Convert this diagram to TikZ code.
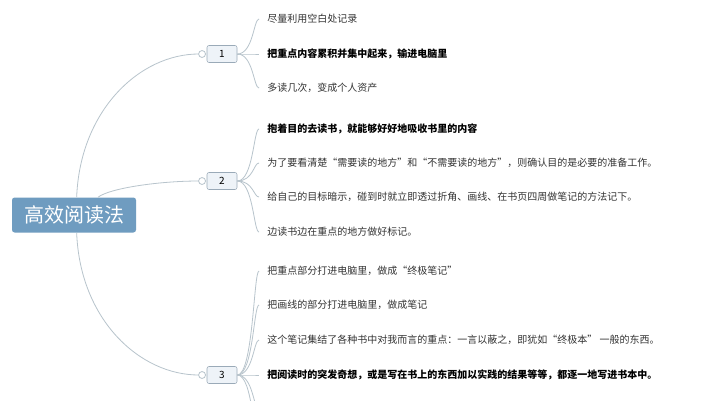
\documentclass[tikz,border=0pt]{standalone}
\usepackage{fontspec}
\setmainfont{Noto Sans CJK SC}
\begin{document}
\begin{tikzpicture}[
    x=0.75pt, y=-0.75pt,
    rootstyle/.style = {fill=rootblue,
                        rounded corners=2pt,
                        minimum width=124pt*0.75,
                        minimum height=35pt*0.75,
                        text=white,
                        font=\fontsize{15}{15}\selectfont},
    numstyle/.style  = {draw=numgray,
                        fill=numfill,
                        rounded corners=1.5pt,
                        minimum width=30pt*0.75,
                        minimum height=17pt*0.75,
                        inner sep=0pt,
                        font=\fontsize{7.5}{8}\selectfont},
    leafstyle/.style = {anchor=west,
                        inner sep=0pt,
                        text=textgray,
                        font=\fontsize{7.5}{8}\selectfont},
    boldleaf/.style  = {leafstyle,
                        text=black,
                        font=\fontsize{7.5}{8}\selectfont\bfseries},
    link/.style      = {draw=linegray,
                        line width=0.6pt}
]
\definecolor{rootblue}{HTML}{6F9CC0}
\definecolor{numgray}{HTML}{9AAAB8}
\definecolor{numfill}{HTML}{EEF3F8}
\definecolor{textgray}{HTML}{333333}
\definecolor{linegray}{HTML}{B8C4CC}
\useasboundingbox (0,0) rectangle (707,400);
\clip (0,0) rectangle (707,400);
\fill[white] (0,0) rectangle (707,400);

\node (root) [rootstyle] at (74,215) {高效阅读法};

\node (n1) [numstyle] at (222,54)  {1};
\node (n2) [numstyle] at (222,181) {2};
\node (n3) [numstyle] at (222,375) {3};

% small knobs in front of the numbers
\foreach \n in {n1,n2,n3}
    \draw[link, fill=white] ([xshift=-3.5pt]\n.west) circle (2.6pt);

\draw[link] (root.north) ++(2pt,0) .. controls (80,110) and (140,54) .. ([xshift=-6pt]n1.west);
\draw[link] ([xshift=18pt]root.north) .. controls (110,188) and (160,181) .. ([xshift=-6pt]n2.west);
\draw[link] (root.south) ++(2pt,0) .. controls (80,320) and (140,375) .. ([xshift=-6pt]n3.west);

% leaves of 1
\node (l11) [leafstyle] at (267,19) {尽量利用空白处记录};
\node (l12) [boldleaf]  at (267,54) {把重点内容累积并集中起来，输进电脑里};
\node (l13) [leafstyle] at (267,88) {多读几次，变成个人资产};

% leaves of 2
\node (l21) [boldleaf]  at (267,129) {抱着目的去读书，就能够好好地吸收书里的内容};
\node (l22) [leafstyle] at (267,163) {为了要看清楚“需要读的地方”和“不需要读的地方”，则确认目的是必要的准备工作。};
\node (l23) [leafstyle] at (267,197) {给自己的目标暗示，碰到时就立即透过折角、画线、在书页四周做笔记的方法记下。};
\node (l24) [leafstyle] at (267,232) {边读书边在重点的地方做好标记。};

% leaves of 3
\node (l31) [leafstyle] at (267,271) {把重点部分打进电脑里，做成“终极笔记”};
\node (l32) [leafstyle] at (267,305) {把画线的部分打进电脑里，做成笔记};
\node (l33) [leafstyle] at (267,340) {这个笔记集结了各种书中对我而言的重点：一言以蔽之，即犹如“终极本” 一般的东西。};
\node (l34) [boldleaf]  at (267,375) {把阅读时的突发奇想，或是写在书上的东西加以实践的结果等等，都逐一地写进书本中。};
\coordinate (l35) at (267,410);
\coordinate (l36) at (267,445);

\foreach \p/\c in {n1/l11,n1/l12,n1/l13,n2/l21,n2/l22,n2/l23,n2/l24,
                   n3/l31,n3/l32,n3/l33,n3/l34,n3/l35,n3/l36}
    \draw[link] (\p.east) .. controls ([xshift=12pt]\p.east) and ([xshift=-10pt]\c.west) .. ([xshift=-6pt]\c.west);
\end{tikzpicture}
\end{document}
